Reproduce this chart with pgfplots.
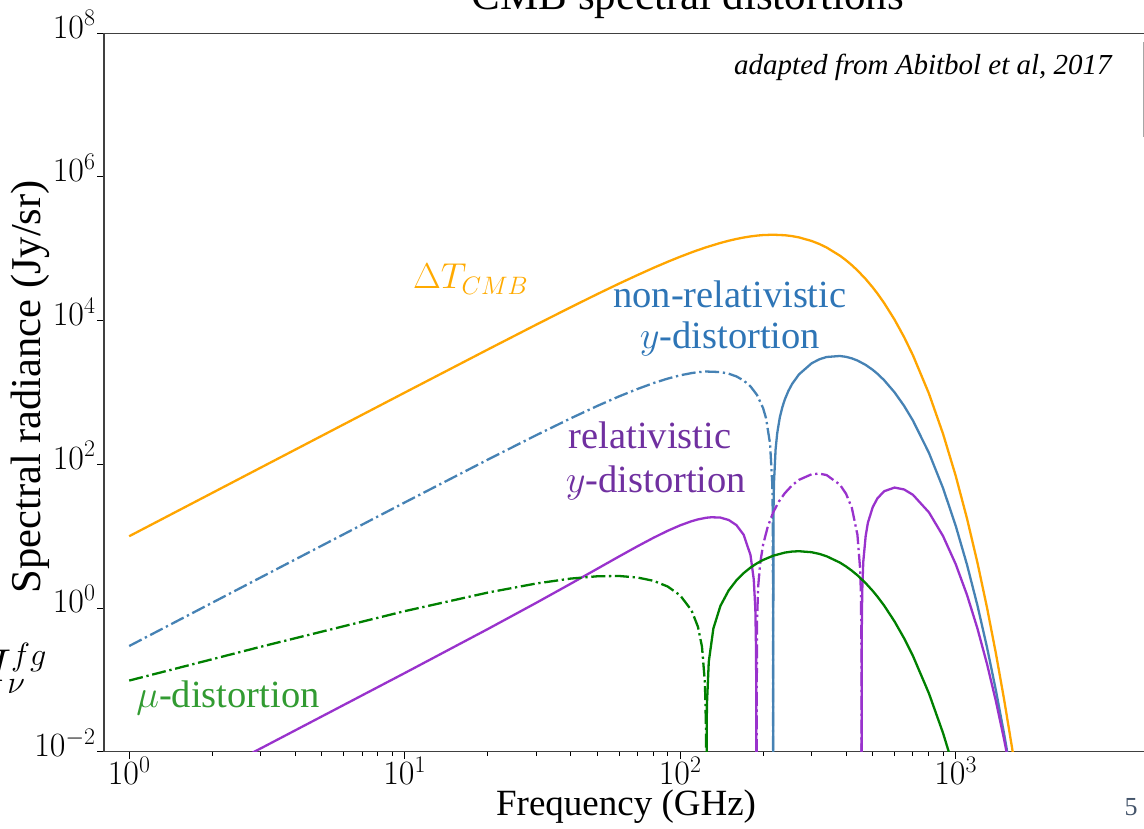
\RequirePackage{fix-cm}
\documentclass[border=0pt]{standalone}
\usepackage[no-math]{fontspec}
\setmainfont{Liberation Serif}
\usepackage{pgfplots}
\pgfplotsset{compat=1.18}
\definecolor{cOrange}{RGB}{255,165,0}
\definecolor{cBlue}{RGB}{70,130,180}
\definecolor{cPurple}{RGB}{153,50,204}
\definecolor{cGreen}{RGB}{0,128,0}
\definecolor{tBlue}{RGB}{46,117,182}
\definecolor{tPurple}{RGB}{112,48,160}
\definecolor{tGreen}{RGB}{50,155,50}
\definecolor{tOrange}{RGB}{255,170,0}
\definecolor{slideNum}{RGB}{68,84,106}
\begin{document}
\begin{tikzpicture}
\begin{axis}[
  at={(104pt,76.3pt)}, anchor=south west,
  scale only axis, width=1044.3pt, height=718.4pt,
  xmode=log, ymode=log,
  xmin=0.81, xmax=5000, ymin=1e-2, ymax=1e8,
  xtick={1,10,100,1000},
  ytick={1e-2,1,1e2,1e4,1e6,1e8},
  yminorticks=false,
  tick align=outside, tick pos=left,
  major tick length=7pt, minor tick length=4pt,
  every tick/.style={black, line width=1pt},
  axis line style={black!75, line width=1.4pt},
  tick label style={font=\fontsize{34}{34}\selectfont},
  yticklabel style={yshift=9pt, xshift=2pt},
  xticklabel style={yshift=5pt},
  xlabel={Frequency (GHz)}, ylabel={Spectral radiance (Jy/sr)},
  xlabel style={font=\fontsize{37}{37}\selectfont, at={(axis description cs:0.5,-0.0895)}, anchor=base},
  ylabel style={font=\fontsize{42.5}{42.5}\selectfont, at={(axis description cs:-0.07086,0.508)}, anchor=center},
  solidline/.style={line width=2.3pt},
  dashdotline/.style={line width=2.3pt, dash pattern=on 14pt off 3.7pt on 2.3pt off 3.7pt},
]
% Delta T_CMB (orange)
\addplot[solidline, cOrange] coordinates {
(1,9.988) (3,89.87) (10,996.2) (20,3953.8) (30,8782.6) (40,15336) (50,23416) (60,32788) (70,43111) (80,54319) (90,65896) (100,77621) (110,89215) (116,95997) (124.35,105105) (140,120748) (150,129516) (160,137169) (170,143620) (180,148818) (190,152747) (200,155410) (217.47,157166) (240,154527) (255,150181) (270,144173) (300,128634) (320,116732) (340,104377) (380,80311) (400,69275) (420,59177) (440,50098) (471.3,37996) (500,29025) (520,23862) (550,17610) (600,10338) (650,5902.6) (700,3291.2) (800,964.9) (900,265.59) (1000,69.555) (1100,17.50) (1200,4.2593) (1300,1.00808) (1400,0.23303) (1500,0.052769) (1600,0.011738) (1650,0.0055033)
};
% non-relativistic y (blue): negative part dash-dot
\addplot[dashdotline, cBlue] coordinates {
(1,0.2959) (3,2.662) (10,29.44) (20,115.93) (30,254.2) (40,435.7) (50,649.5) (60,882.7) (70,1119.4) (80,1351.5) (90,1559.7) (100,1733.9) (110,1864.0) (116,1917.5) (124.35,1958.7) (140,1925.6) (150,1828.4) (160,1674.5) (170,1468.5) (180,1216.8) (190,926.5) (200,606.1) (205,437.3) (212,193) (216,52.5) (217,16.8) (217.47,0.0001)
};
\addplot[solidline, cBlue] coordinates {
(217.47,0.0001) (218,18.9) (219,54.6) (222,161) (225,270.16) (230,449.9) (235,628.8) (240,805.9) (247,1049.5) (255,1318.9) (270,1789.2) (300,2548.6) (320,2898.5) (340,3120.5) (380,3223.1) (400,3137.2) (420,2985.8) (440,2787.4) (471.3,2422.7) (500,2067.5) (520,1824) (550,1483.7) (600,1005.8) (650,651.2) (700,406.03) (800,144.22) (900,46.624) (1000,14.025) (1100,3.9855) (1200,1.08112) (1300,0.28217) (1400,0.071306) (1500,0.017524) (1600,0.0042045)
};
% relativistic y (purple)
\addplot[solidline, cPurple] coordinates {
(1,0.001234) (3,0.0111) (10,0.12432) (20,0.50787) (30,1.1789) (40,2.1729) (50,3.5178) (60,5.2177) (70,7.2371) (80,9.4995) (90,11.866) (100,14.157) (110,16.158) (116,17.123) (124.35,18.060) (130,18.34) (140,18.143) (150,16.805) (160,14.257) (170,10.460) (180,5.4642) (185,2.5) (187.5,0.96) (188.7,0.22) (189.06,0.0001)
};
\addplot[dashdotline, cPurple] coordinates {
(189.06,0.0001) (190,0.63) (192,2.0) (195,4.09) (200,7.618) (208,13.6) (217.47,21.339) (228,30.2) (240,39.815) (255,51.17) (270,60.825) (300,72.733) (320,74.32) (340,70.925) (380,52.197) (400,38.999) (420,24.753) (440,10.478) (450,3.5) (453,1.6) (455,0.27) (455.4,0.0001)
};
\addplot[solidline, cPurple] coordinates {
(455.4,0.0001) (456,0.4) (458,1.74) (462,4.4) (471.3,10.014) (480,15.3) (500,25.354) (520,33.60) (550,42.212) (600,47.51) (650,44.70) (700,37.632) (800,21.438) (900,10.033) (1000,4.1003) (1100,1.5149) (1200,0.51729) (1300,0.16578) (1400,0.050427) (1500,0.014676) (1600,0.004114)
};
% mu distortion (green)
\addplot[dashdotline, cGreen] coordinates {
(1,0.09783) (3,0.2887) (10,0.9046) (20,1.6382) (30,2.1935) (40,2.5681) (50,2.7651) (60,2.7926) (70,2.6582) (80,2.3915) (90,1.9974) (100,1.5011) (110,0.9244) (116,0.54898) (120,0.2893) (123,0.0906) (124,0.02366) (124.35,0.0001)
};
\addplot[solidline, cGreen] coordinates {
(124.35,0.0001) (125,0.04342) (127,0.17845) (132,0.51983) (140,1.0716) (150,1.7585) (160,2.4266) (170,3.0622) (180,3.6532) (190,4.1908) (200,4.6677) (217.47,5.3436) (240,5.9129) (255,6.110) (270,6.1756) (300,5.9805) (320,5.6673) (340,5.2570) (380,4.2904) (400,3.7909) (420,3.3078) (440,2.8539) (471.3,2.2211) (500,1.7316) (520,1.4418) (550,1.0822) (600,0.65078) (650,0.37905) (700,0.21493) (800,0.06471) (900,0.018176) (1000,0.0048365)
};
% annotations
\node[anchor=base west, inner sep=0pt, text=tOrange, font=\fontsize{36}{36}\selectfont] at (rel axis cs:0.2959,0.6441) {$\Delta T_{CMB}$};
\node[anchor=base, inner sep=0pt, text=tBlue, font=\fontsize{38.5}{38.5}\selectfont] at (rel axis cs:0.5994,0.6190) {non-relativistic};
\node[anchor=base, inner sep=0pt, text=tBlue, font=\fontsize{38.5}{38.5}\selectfont] at (rel axis cs:0.5994,0.5606) {$y$-distortion};
\node[anchor=base, inner sep=0pt, text=tPurple, font=\fontsize{38.5}{38.5}\selectfont] at (rel axis cs:0.5228,0.4227) {relativistic};
\node[anchor=base, inner sep=0pt, text=tPurple, font=\fontsize{38.5}{38.5}\selectfont] at (rel axis cs:0.5286,0.3615) {$y$-distortion};
\node[anchor=base, inner sep=0pt, text=tGreen, font=\fontsize{38.5}{38.5}\selectfont] at (rel axis cs:0.1187,0.0622) {$\mu$-distortion};
\node[anchor=base, inner sep=0pt, font=\fontsize{29}{29}\selectfont\itshape] at (rel axis cs:0.7843,0.9420) {adapted from Abitbol et al, 2017};
\end{axis}
% slide elements around the chart
\node[anchor=base, inner sep=0pt, font=\fontsize{43}{43}\selectfont] at (688pt,818pt) {CMB spectral distortions};
\node[anchor=base, inner sep=0pt, text=slideNum, font=\fontsize{26}{26}\selectfont] at (1131pt,13pt) {5};
\node[anchor=base east, inner sep=0pt, font=\fontsize{46}{46}\selectfont] at (47pt,146pt) {$I_{\nu}^{fg}$};
\draw[black!35, line width=1pt] (1143.3pt,786pt) -- (1143.3pt,691pt);
\pgfresetboundingbox
\path[use as bounding box] (0pt,0pt) rectangle (1144pt,828pt);
\end{tikzpicture}
\end{document}
